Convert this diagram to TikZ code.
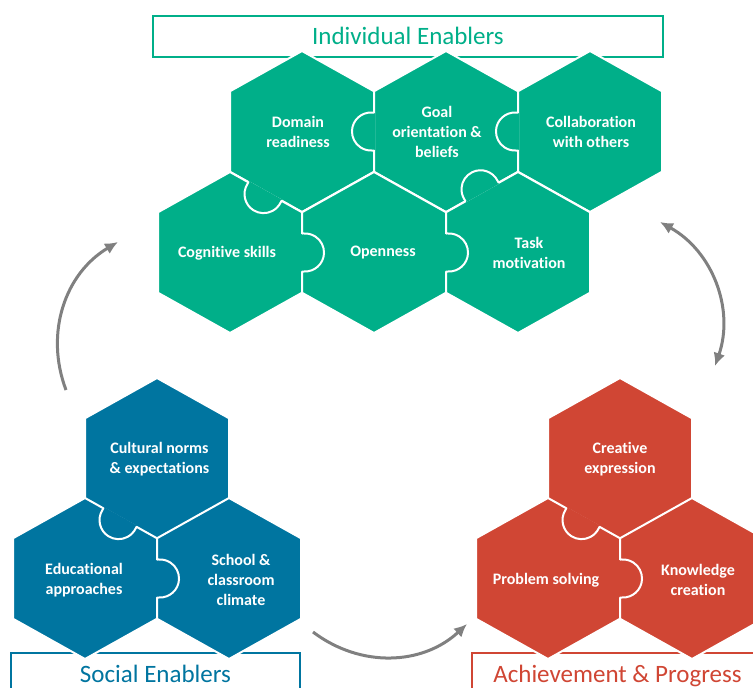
\documentclass[tikz,border=0pt]{standalone}
\usepackage{fontspec}
\setmainfont{Carlito}[Ligatures=NoCommon]
\usetikzlibrary{calc}
\usetikzlibrary{arrows.meta}
\definecolor{enablegreen}{RGB}{0,175,137}
\definecolor{socialblue}{RGB}{0,117,160}
\definecolor{achievered}{RGB}{208,70,52}
\definecolor{loopgray}{RGB}{128,128,128}
% hexagon cell: colour, centre x, centre y
\newcommand{\hexcell}[3]{%
  \draw[fill=#1,draw=white,line width=2pt] (#2,#3) ++(0,-80.5) -- ++(72,40.25) -- ++(0,80.5)
    -- ++(-72,40.25) -- ++(-72,-40.25) -- ++(0,-80.5) -- cycle;}
% puzzle tab: colour, point on the edge, direction of the tab
\newcommand{\knob}[3]{%
  \fill[#1] ($#2+(#3+90:19)$) -- ++(#3:2) arc[start angle=#3+93,end angle=#3-93,radius=19.03]
    -- ($#2+(#3-90:19)$) -- cycle;
  \draw[#1,line width=2.6pt] ($#2+(#3+90:19)$) -- ($#2+(#3-90:19)$);
  \draw[white,line width=2pt,line cap=round] ($#2+(#3+90:19)$) -- ++(#3:2)
    arc[start angle=#3+93,end angle=#3-93,radius=19.03] -- ($#2+(#3-90:19)$);}

\begin{document}
\begin{tikzpicture}[x=1pt,y=-1pt,
  hexlabel/.style={text=white,align=center,font=\fontsize{16}{20}\selectfont\bfseries},
  titlebox/.style={draw=#1,text=#1,fill=white,line width=2pt,inner sep=0pt,
    text height=16pt,text depth=0pt,font=\fontsize{25}{30}\selectfont},
  loopline/.style={draw=loopgray,line width=3pt}]
\useasboundingbox (0,0) rectangle (753,688);
\clip (0,0) rectangle (753,688);

% title boxes
\node[titlebox=enablegreen,minimum width=510pt,minimum height=41pt] (indiv) at (408,36.5) {Individual Enablers};
\node[titlebox=socialblue,minimum width=289pt,minimum height=42pt] (social) at (155.5,674) {Social Enablers};
\node[titlebox=achievered,minimum width=291pt,minimum height=42pt] (achieve) at (617.5,674) {Achievement \& Progress};

% individual enablers
\hexcell{enablegreen}{302}{131.5}
\hexcell{enablegreen}{446}{131.5}
\hexcell{enablegreen}{590}{131.5}
\hexcell{enablegreen}{230}{252.5}
\hexcell{enablegreen}{374}{252.5}
\hexcell{enablegreen}{518}{252.5}
\knob{enablegreen}{(265,191.5)}{119.2}
\knob{enablegreen}{(302,252.5)}{0}
\knob{enablegreen}{(446,252.5)}{0}
\knob{enablegreen}{(374,131.5)}{180}
\knob{enablegreen}{(518,131.5)}{180}
\knob{enablegreen}{(482,191.9)}{240.8}

% social enablers
\hexcell{socialblue}{157}{458.5}
\hexcell{socialblue}{85}{578.5}
\hexcell{socialblue}{229}{578.5}
\knob{socialblue}{(120,517.5)}{119.2}
\knob{socialblue}{(157,578.5)}{0}

% achievement
\hexcell{achievered}{620}{458.5}
\hexcell{achievered}{548}{578.5}
\hexcell{achievered}{692}{578.5}
\knob{achievered}{(583,517.5)}{119.2}
\knob{achievered}{(620,578.5)}{0}

\node[hexlabel] (domain) at (298,132) {Domain\\readiness};
\node[hexlabel] (goal) at (437,132) {Goal\\orientation \&\\beliefs};
\node[hexlabel] (collab) at (591,132) {Collaboration\\with others};
\node[hexlabel] (cognitive) at (227,253) {Cognitive skills};
\node[hexlabel] (openness) at (383,253) {Openness};
\node[hexlabel] (task) at (529,253) {Task\\motivation};
\node[hexlabel] (cultural) at (159.5,459) {Cultural norms\\\& expectations};
\node[hexlabel] (educ) at (84,580) {Educational\\approaches};
\node[hexlabel] (school) at (241,580) {School \&\\classroom\\climate};
\node[hexlabel] (creative) at (620,459) {Creative\\expression};
\node[hexlabel] (problem) at (546,580) {Problem solving};
\node[hexlabel] (knowledge) at (698,580) {Knowledge\\creation};

% cycle arrows
\coordinate (left a) at (66,390);
\coordinate (left b) at (118,242);
\coordinate (right a) at (660,222);
\coordinate (right b) at (715,366);
\coordinate (bottom a) at (313,632);
\coordinate (bottom b) at (467,624);
\draw[loopline,-{Latex[length=13pt,width=12pt]}] (left a) to[bend left=40] (left b);
\draw[loopline,{Latex[length=13pt,width=12pt]}-{Latex[length=13pt,width=12pt]}] (right a) to[bend left=40] (right b);
\draw[loopline,-{Latex[length=13pt,width=12pt]}] (bottom a) to[bend right=40] (bottom b);
\end{tikzpicture}
\end{document}
